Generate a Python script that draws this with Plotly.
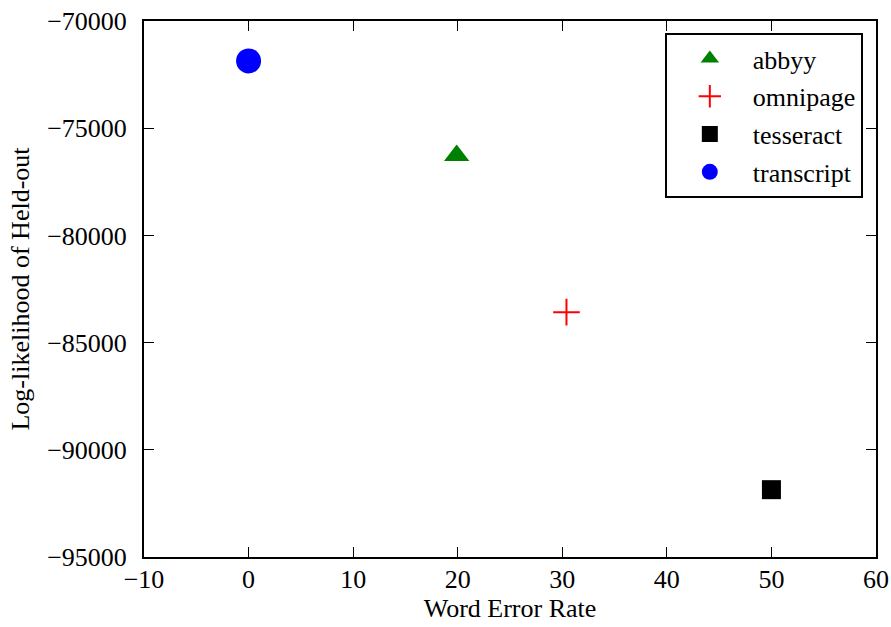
import plotly.graph_objects as go

names = ["abbyy", "omnipage", "tesseract", "transcript"]
wer = [19.9, 30.4, 50.0, 0.0]
loglik = [-76270, -83580, -91860, -71860]
colors = ["green", "red", "black", "blue"]
symbols = ["triangle-up", "cross-thin", "square", "circle"]
sizes = [22, 19, 19, 25]

x_ticks = [-10, 0, 10, 20, 30, 40, 50, 60]
x_ticktext = ["\u221210", "0", "10", "20", "30", "40", "50", "60"]
y_ticks = [-95000, -90000, -85000, -80000, -75000, -70000]
y_ticktext = ["\u221295000", "\u221290000", "\u221285000", "\u221280000", "\u221275000", "\u221270000"]

fig = go.Figure()
for n, xv, yv, c, s, sz in zip(names, wer, loglik, colors, symbols, sizes):
    marker = dict(color=c, symbol=s, size=sz)
    if s == "cross-thin":
        marker["line"] = dict(color=c, width=2)
    else:
        marker["line"] = dict(width=0)
    fig.add_trace(go.Scatter(x=[xv], y=[yv], mode="markers", name=n,
                             marker=marker, legendgroup=n))

font = dict(family="Liberation Serif, Times New Roman, serif", size=26, color="black")
fig.update_layout(
    width=891, height=627,
    margin=dict(l=144, r=15, t=21, b=70),
    paper_bgcolor="white", plot_bgcolor="white",
    font=font,
    showlegend=True,
    legend=dict(x=0.982, y=0.9775, xanchor="right", yanchor="top",
                bordercolor="black", borderwidth=2, bgcolor="white",
                font=font, tracegroupgap=1, traceorder="grouped",
                itemwidth=76),
)
axis_common = dict(showline=True, linecolor="black", linewidth=2, mirror="ticks",
                   ticks="inside", ticklen=10, tickwidth=1, tickcolor="black",
                   showgrid=False, zeroline=False, tickfont=font, automargin=False)
fig.update_xaxes(range=[-10, 60], tickvals=x_ticks, ticktext=x_ticktext, ticklabelstandoff=-2,
                 title=dict(text="Word Error Rate", font=font, standoff=0),
                 **axis_common)
fig.update_yaxes(range=[-95000, -70000], tickvals=y_ticks, ticktext=y_ticktext, ticklabelstandoff=10,
                 title=dict(text="Log-likelihood of Held-out", font=font, standoff=10),
                 **axis_common)
fig.write_html("out.html", config={"displayModeBar": False},
               post_script="document.body.style.margin='0';")
